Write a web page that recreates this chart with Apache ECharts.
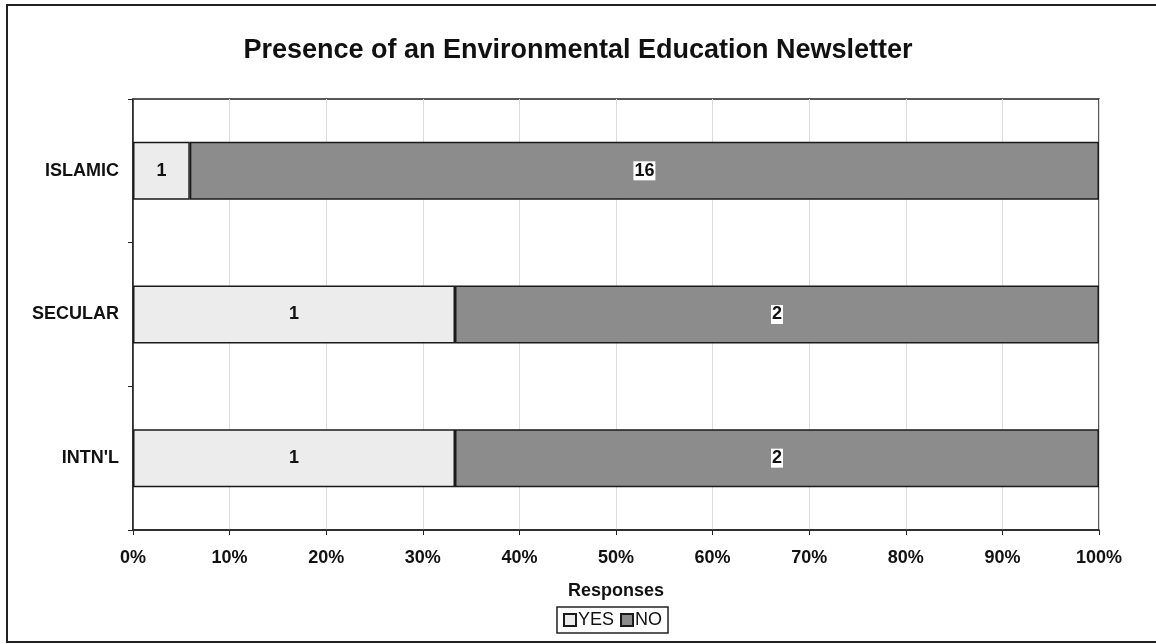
<!DOCTYPE html>
<html>
<head>
<meta charset="utf-8">
<script src="https://cdn.jsdelivr.net/npm/echarts@6/dist/echarts.min.js"></script>
<style>
  html, body { margin: 0; padding: 0; background: #fff; }
  #chart { width: 1156px; height: 644px; }
</style>
</head>
<body>
<div id="chart"></div>
<script>
// Survey groups, top to bottom
const categories = ['ISLAMIC', 'SECULAR', "INTN'L"];
// Response counts per group
const yesCounts = [1, 1, 1];
const noCounts = [16, 2, 2];
const tickLabels = ['0%', '10%', '20%', '30%', '40%', '50%', '60%', '70%', '80%', '90%', '100%'];

// Each segment is drawn as its share of the group's total responses
const totals = yesCounts.map((y, i) => y + noCounts[i]);
const yesShare = yesCounts.map((v, i) => ({ value: v / totals[i] * 100, count: v }));
const noShare = noCounts.map((v, i) => ({ value: v / totals[i] * 100, count: v }));

const FONT = '"Liberation Sans", Arial, sans-serif';

const chart = echarts.init(document.getElementById('chart'));
chart.setOption({
  backgroundColor: '#ffffff',
  animation: false,
  title: {
    text: 'Presence of an Environmental Education Newsletter',
    left: 'center',
    top: 32,
    textStyle: { fontFamily: FONT, fontSize: 27, fontWeight: 'bold', color: '#111' }
  },
  graphic: [{
    type: 'rect',
    shape: { x: 7, y: 5, width: 1170, height: 637 },
    style: { fill: 'none', stroke: '#222', lineWidth: 2 },
    silent: true
  }],
  grid: {
    left: 133, right: 57, top: 99, bottom: 114,
    show: true, borderColor: '#222', borderWidth: 1.5, backgroundColor: 'transparent'
  },
  legend: {
    bottom: 11,
    left: 557,
    itemWidth: 12,
    itemHeight: 12,
    itemGap: 6,
    padding: [4, 6, 4, 6],
    borderColor: '#222',
    borderWidth: 1.5,
    icon: 'rect',
    textStyle: { fontFamily: FONT, fontSize: 18, color: '#111', padding: [0, 0, 0, -3] },
    data: ['YES', 'NO']
  },
  xAxis: {
    type: 'value',
    min: 0,
    max: 100,
    interval: 10,
    name: 'Responses',
    nameLocation: 'middle',
    nameGap: 52,
    nameTextStyle: { fontFamily: FONT, fontSize: 18, fontWeight: 'bold', color: '#111' },
    axisLine: { show: true, lineStyle: { color: '#222', width: 1.5 } },
    axisTick: { show: true, length: 5, lineStyle: { color: '#222' } },
    axisLabel: {
      margin: 19,
      fontFamily: FONT, fontSize: 18, fontWeight: 'bold', color: '#111',
      formatter: (v) => tickLabels[Math.round(v / 10)]
    },
    splitLine: { show: true, lineStyle: { color: '#dddddd', width: 1 } }
  },
  yAxis: {
    type: 'category',
    inverse: true,
    data: categories,
    axisLine: { show: true, lineStyle: { color: '#222', width: 1.5 } },
    axisTick: { show: true, length: 5, lineStyle: { color: '#222' } },
    axisLabel: {
      margin: 14,
      fontFamily: FONT, fontSize: 18, fontWeight: 'bold', color: '#111'
    }
  },
  series: [
    {
      name: 'YES',
      type: 'bar',
      stack: 'share',
      barWidth: 58,
      data: yesShare,
      itemStyle: { color: '#ececec', borderColor: '#1a1a1a', borderWidth: 1.5 },
      label: {
        show: true,
        position: 'inside',
        formatter: (p) => p.data.count,
        fontFamily: FONT, fontSize: 18, fontWeight: 'bold', color: '#111'
      }
    },
    {
      name: 'NO',
      type: 'bar',
      stack: 'share',
      barWidth: 58,
      data: noShare,
      itemStyle: { color: '#8c8c8c', borderColor: '#1a1a1a', borderWidth: 1.5 },
      label: {
        show: true,
        position: 'inside',
        formatter: (p) => p.data.count,
        fontFamily: FONT, fontSize: 18, fontWeight: 'bold', color: '#111',
        backgroundColor: '#ffffff',
        padding: [1, 1, 0, 1]
      }
    }
  ]
});
</script>
</body>
</html>
